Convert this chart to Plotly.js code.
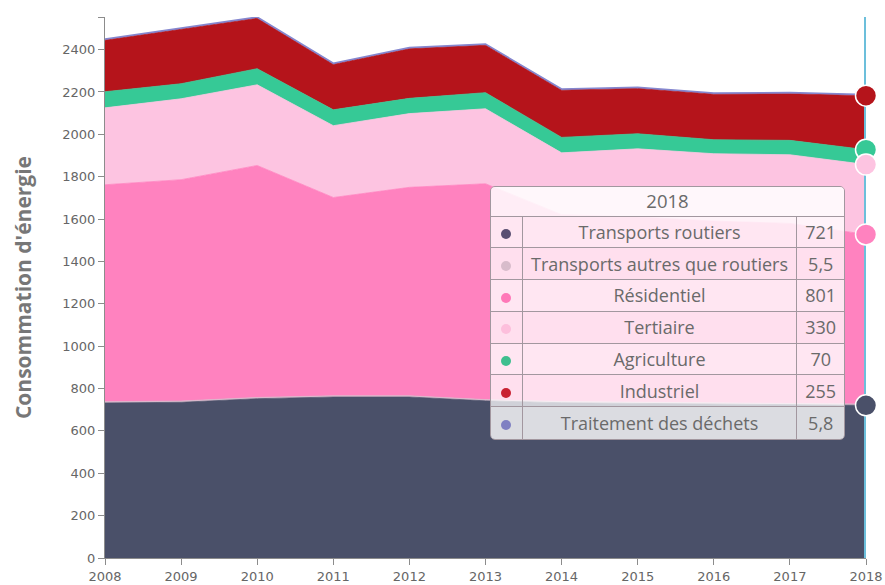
<!DOCTYPE html>
<html>
<head>
<meta charset="utf-8">
<script src="https://cdn.plot.ly/plotly-3.0.1.min.js"></script>
<style>
  html, body { margin: 0; padding: 0; background: #fff; }
  #wrap { position: relative; width: 885px; height: 585px; }
  #chart { position: absolute; left: 0; top: 0; width: 885px; height: 585px; }
  #tip {
    position: absolute; left: 490px; top: 186px; width: 355px;
    border: 1.5px solid #a2979f; border-radius: 5px; overflow: hidden;
    font-family: "Open Sans", sans-serif; color: #6a6a6a; font-size: 18px;
    box-sizing: border-box;
  }
  #tip table { border-collapse: collapse; width: 100%; table-layout: fixed; }
  #tip td { border: 1.5px solid #a2979f; padding: 0; text-align: center; white-space: nowrap; line-height: 1; }
  #tip tr { height: 31.8px; }
  #tip tr.h { height: 29px; }
  #tip tr:first-child td { border-top: none; }
  #tip tr:last-child td { border-bottom: none; }
  #tip td:first-child { border-left: none; }
  #tip td:last-child { border-right: none; }
  #tip .hdr { background: rgba(255,255,255,0.86); font-size: 18.5px; }
  #tip .odd td { background: rgba(255,255,255,0.80); }
  #tip .even td { background: rgba(255,255,255,0.74); }
  #tip .dot { display: inline-block; width: 10px; height: 10px; border-radius: 50%; vertical-align: middle; }
</style>
</head>
<body>
<div id="wrap">
  <div id="chart"></div>
  <div id="tip"></div>
</div>
<script>
// ---- Data ----
var years = [2008, 2009, 2010, 2011, 2012, 2013, 2014, 2015, 2016, 2017, 2018];
var seriesNames = ["Transports routiers", "Transports autres que routiers", "Résidentiel", "Tertiaire", "Agriculture", "Industriel", "Traitement des déchets"];
var transportsRoutiers = [732, 735, 752, 760, 760, 742, 733, 730, 725, 724, 721];
var transportsAutres   = [6.0, 5.9, 5.9, 5.8, 5.8, 5.7, 5.6, 5.6, 5.5, 5.5, 5.5];
var residentiel        = [1024, 1045, 1095, 936, 984, 1019, 882, 874, 860, 850, 801];
var tertiaire          = [363, 382, 381, 339, 348, 354, 292, 322, 318, 324, 330];
var agriculture        = [76, 71, 76, 75, 72, 76, 73, 71, 66, 68, 70];
var industriel         = [243, 258, 238, 214, 234, 224, 223, 214, 215, 220, 255];
var dechets            = [6.2, 6.1, 6.0, 6.0, 5.9, 5.9, 5.9, 5.8, 5.8, 5.8, 5.8];
var yTickVals = [0, 200, 400, 600, 800, 1000, 1200, 1400, 1600, 1800, 2000, 2200, 2400];

var seriesValues = [transportsRoutiers, transportsAutres, residentiel, tertiaire, agriculture, industriel, dechets];
var fillColors = ["#4a5069", "#d6b6c9", "#ff82bf", "#fdc4e1", "#36c996", "#b5141b", "#8587cf"];
var dotColors  = ["#5a4f72", "#d8bccb", "#ff78b8", "#fdbfdc", "#3fbf8f", "#c92232", "#7f80c2"];
var showMarker = [true, false, true, true, true, true, false];

// ---- Derived ----
var n = years.length, last = n - 1;
var totals = years.map(function (_, i) {
  return seriesValues.reduce(function (s, arr) { return s + arr[i]; }, 0);
});
var yMax = Math.max.apply(null, totals);

var traces = seriesValues.map(function (vals, k) {
  return {
    type: "scatter", mode: "lines", x: years, y: vals, name: seriesNames[k],
    stackgroup: "one", fill: "tonexty", fillcolor: fillColors[k],
    line: { color: fillColors[k], width: k === 6 ? 1.5 : 0.8 },
    hoverinfo: "skip", showlegend: false
  };
});

// hover spike line at the last year
traces.push({
  type: "scatter", mode: "lines", x: [years[last], years[last]], y: [0, yMax],
  line: { color: "#6cbfdb", width: 4 }, hoverinfo: "skip", showlegend: false, cliponaxis: false
});

// markers at cumulative values of the last year (upper series drawn first)
var cum = 0, pts = [];
seriesValues.forEach(function (vals, k) {
  cum += vals[last];
  if (showMarker[k]) { pts.push({ y: cum, c: fillColors[k] }); }
});
pts.reverse();
traces.push({
  type: "scatter", mode: "markers",
  x: pts.map(function () { return years[last]; }),
  y: pts.map(function (p) { return p.y; }),
  marker: { size: 21, color: pts.map(function (p) { return p.c; }), line: { color: "#ffffff", width: 1.5 } },
  hoverinfo: "skip", showlegend: false, cliponaxis: false
});

var layout = {
  width: 885, height: 585,
  margin: { l: 105, r: 19, t: 17, b: 27, pad: 0 },
  paper_bgcolor: "#ffffff", plot_bgcolor: "#ffffff",
  font: { family: "DejaVu Sans, sans-serif", size: 13, color: "#666666" },
  xaxis: {
    range: [years[0], years[last]], tickvals: years, ticktext: years.map(String),
    showgrid: false, zeroline: false, showline: true, linecolor: "#8c8c8c", linewidth: 1,
    ticks: "outside", ticklen: 6, tickcolor: "#8c8c8c", tickfont: { size: 13, color: "#666" }
  },
  yaxis: {
    range: [0, yMax], tickvals: yTickVals.concat([yMax]),
    ticktext: yTickVals.map(String).concat([""]),
    showgrid: false, zeroline: false, showline: true, linecolor: "#8c8c8c", linewidth: 1,
    ticks: "outside", ticklen: 6, tickcolor: "#8c8c8c", tickfont: { size: 13, color: "#666" },
    title: { text: "Consommation d'énergie", standoff: 24,
             font: { family: "Open Sans, sans-serif", size: 21, color: "#777777", weight: "bold" } }
  }
};

Plotly.newPlot("chart", traces, layout, { displayModeBar: false, staticPlot: true });

// ---- Tooltip table (real text) ----
function fmt(v) { return String(v).replace(".", ","); }
var html = '<table><colgroup><col style="width:31px"><col><col style="width:47px"></colgroup>';
html += '<tr class="h"><td class="hdr" colspan="3">' + years[last] + '</td></tr>';
seriesNames.forEach(function (name, k) {
  html += '<tr class="' + (k % 2 === 0 ? 'odd' : 'even') + '">' +
    '<td><span class="dot" style="background:' + dotColors[k] + '"></span></td>' +
    '<td>' + name + '</td>' +
    '<td>' + fmt(seriesValues[k][last]) + '</td></tr>';
});
html += '</table>';
document.getElementById("tip").innerHTML = html;
</script>
</body>
</html>
